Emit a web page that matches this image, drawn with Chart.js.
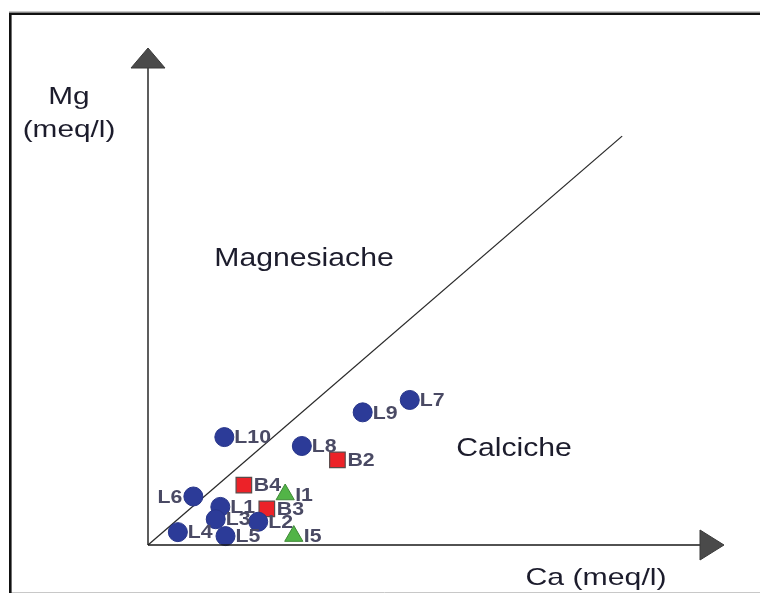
<!DOCTYPE html>
<html>
<head>
<meta charset="utf-8">
<script src="https://cdn.jsdelivr.net/npm/chart.js@4/dist/chart.umd.min.js"></script>
<style>
  html, body { margin: 0; padding: 0; background: #fff; }
  #wrap { width: 760px; height: 595px; position: relative; }
</style>
</head>
<body>
<div id="wrap"><canvas id="c" width="760" height="595"></canvas></div>
<script>
// Ca and Mg concentrations (meq/l) per sample group
const lakeNames = ['L1', 'L2', 'L3', 'L4', 'L5', 'L6', 'L7', 'L8', 'L9', 'L10'];
const lakeCa    = [1.26, 1.92, 1.18, 0.52, 1.35, 0.79, 4.56, 2.68, 3.74, 1.33];
const lakeMg    = [0.77, 0.47, 0.52, 0.26, 0.18, 0.98, 2.93, 2.00, 2.68, 2.18];

const bNames = ['B2', 'B3', 'B4'];
const bCa    = [3.30, 2.07, 1.67];
const bMg    = [1.72, 0.73, 1.21];

const iNames = ['I1', 'I5'];
const iCa    = [2.39, 2.54];
const iMg    = [1.02, 0.18];

// Ca = Mg dividing line
const divideLine = [0, 8.26];

// labels drawn on the left side of their marker
const leftLabels = ['L6'];

const AX_MAX = 10;
const FONT = '"Liberation Sans", Arial, sans-serif';

function toPts(xs, ys, names) {
  return xs.map((x, i) => ({ x: x, y: ys[i], name: names[i] }));
}

function drawText(ctx, text, x, y, size, sx, color, weight, align) {
  ctx.save();
  ctx.font = (weight || 'normal') + ' ' + size + 'px ' + FONT;
  ctx.fillStyle = color;
  ctx.textBaseline = 'middle';
  ctx.textAlign = align || 'center';
  ctx.translate(x, y);
  ctx.scale(sx, 1);
  ctx.fillText(text, 0, 0);
  ctx.restore();
}

const decorPlugin = {
  id: 'decor',
  beforeDraw(chart) {
    const ctx = chart.ctx;
    ctx.save();
    ctx.fillStyle = '#ffffff';
    ctx.fillRect(0, 0, chart.width, chart.height);
    // outer frame
    ctx.strokeStyle = '#c8c8c8';
    ctx.lineWidth = 1;
    ctx.beginPath();
    ctx.moveTo(9, 592.5); ctx.lineTo(760, 592.5);
    ctx.moveTo(9, 11.5); ctx.lineTo(760, 11.5);
    ctx.stroke();
    ctx.strokeStyle = '#111111';
    ctx.lineWidth = 2.6;
    ctx.beginPath();
    ctx.moveTo(10.3, 593); ctx.lineTo(10.3, 13.8); ctx.lineTo(760, 13.8);
    ctx.stroke();
    ctx.restore();
  },
  afterDatasetsDraw(chart) {
    const ctx = chart.ctx;
    const xs = chart.scales.x, ys = chart.scales.y;
    const ox = xs.getPixelForValue(0), oy = ys.getPixelForValue(0);
    const top = ys.getPixelForValue(AX_MAX), right = xs.getPixelForValue(AX_MAX);
    ctx.save();
    // axes
    ctx.strokeStyle = '#1a1a1a';
    ctx.lineWidth = 1.4;
    ctx.beginPath();
    ctx.moveTo(ox, oy); ctx.lineTo(ox, top + 18);
    ctx.moveTo(ox, oy); ctx.lineTo(right - 22, oy);
    ctx.stroke();
    // arrow heads
    ctx.fillStyle = '#4a4a4a';
    ctx.strokeStyle = '#3a3a3a';
    ctx.lineWidth = 1;
    ctx.beginPath();
    ctx.moveTo(ox, top - 2);
    ctx.lineTo(ox + 17, top + 18);
    ctx.lineTo(ox - 17, top + 18);
    ctx.closePath();
    ctx.fill(); ctx.stroke();
    ctx.beginPath();
    ctx.moveTo(right + 2, oy);
    ctx.lineTo(right - 22, oy - 15);
    ctx.lineTo(right - 22, oy + 15);
    ctx.closePath();
    ctx.fill(); ctx.stroke();
    ctx.restore();

    // axis titles and region names
    drawText(ctx, 'Mg', 69, 97, 24, 1.24, '#1c1c2c');
    drawText(ctx, '(meq/l)', 69, 130, 24, 1.24, '#1c1c2c');
    drawText(ctx, 'Ca (meq/l)', 596, 578, 24, 1.26, '#1c1c2c');
    drawText(ctx, 'Magnesiache', 304, 259, 26, 1.16, '#1c1c2c');
    drawText(ctx, 'Calciche', 514, 449, 26, 1.16, '#1c1c2c');

    // sample labels
    chart.data.datasets.forEach((ds, di) => {
      if (!ds.labelled) return;
      const meta = chart.getDatasetMeta(di);
      meta.data.forEach((el, i) => {
        const name = ds.data[i].name;
        const left = leftLabels.includes(name);
        drawText(ctx, name, el.x + (left ? -11 : 10), el.y + 1, 19, 1.12,
                 '#4a4a64', 'bold', left ? 'right' : 'left');
      });
    });
  }
};

new Chart(document.getElementById('c'), {
  type: 'scatter',
  data: {
    datasets: [
      {
        label: 'Ca = Mg',
        data: divideLine.map(v => ({ x: v, y: v })),
        showLine: true,
        borderColor: '#2a2a2a',
        borderWidth: 1.3,
        pointRadius: 0,
        order: 4
      },
      {
        label: 'L',
        labelled: true,
        data: toPts(lakeCa, lakeMg, lakeNames),
        pointStyle: 'circle',
        pointRadius: 9.5,
        backgroundColor: '#2c3b98',
        borderColor: '#27358a',
        borderWidth: 1,
        order: 1
      },
      {
        label: 'B',
        labelled: true,
        data: toPts(bCa, bMg, bNames),
        pointStyle: 'rect',
        pointRadius: 11,
        backgroundColor: '#ec2228',
        borderColor: '#5a4a4a',
        borderWidth: 1.2,
        order: 2
      },
      {
        label: 'I',
        labelled: true,
        data: toPts(iCa, iMg, iNames),
        pointStyle: 'triangle',
        pointRadius: 10.5,
        backgroundColor: '#52b447',
        borderColor: '#3f8a36',
        borderWidth: 1,
        order: 3
      }
    ]
  },
  options: {
    responsive: false,
    animation: false,
    clip: false,
    layout: { padding: { left: 148, right: 38, top: 50, bottom: 50 } },
    plugins: {
      legend: { display: false },
      tooltip: { enabled: false }
    },
    scales: {
      x: { type: 'linear', min: 0, max: AX_MAX, display: false },
      y: { type: 'linear', min: 0, max: AX_MAX, display: false }
    }
  },
  plugins: [decorPlugin]
});
</script>
</body>
</html>
